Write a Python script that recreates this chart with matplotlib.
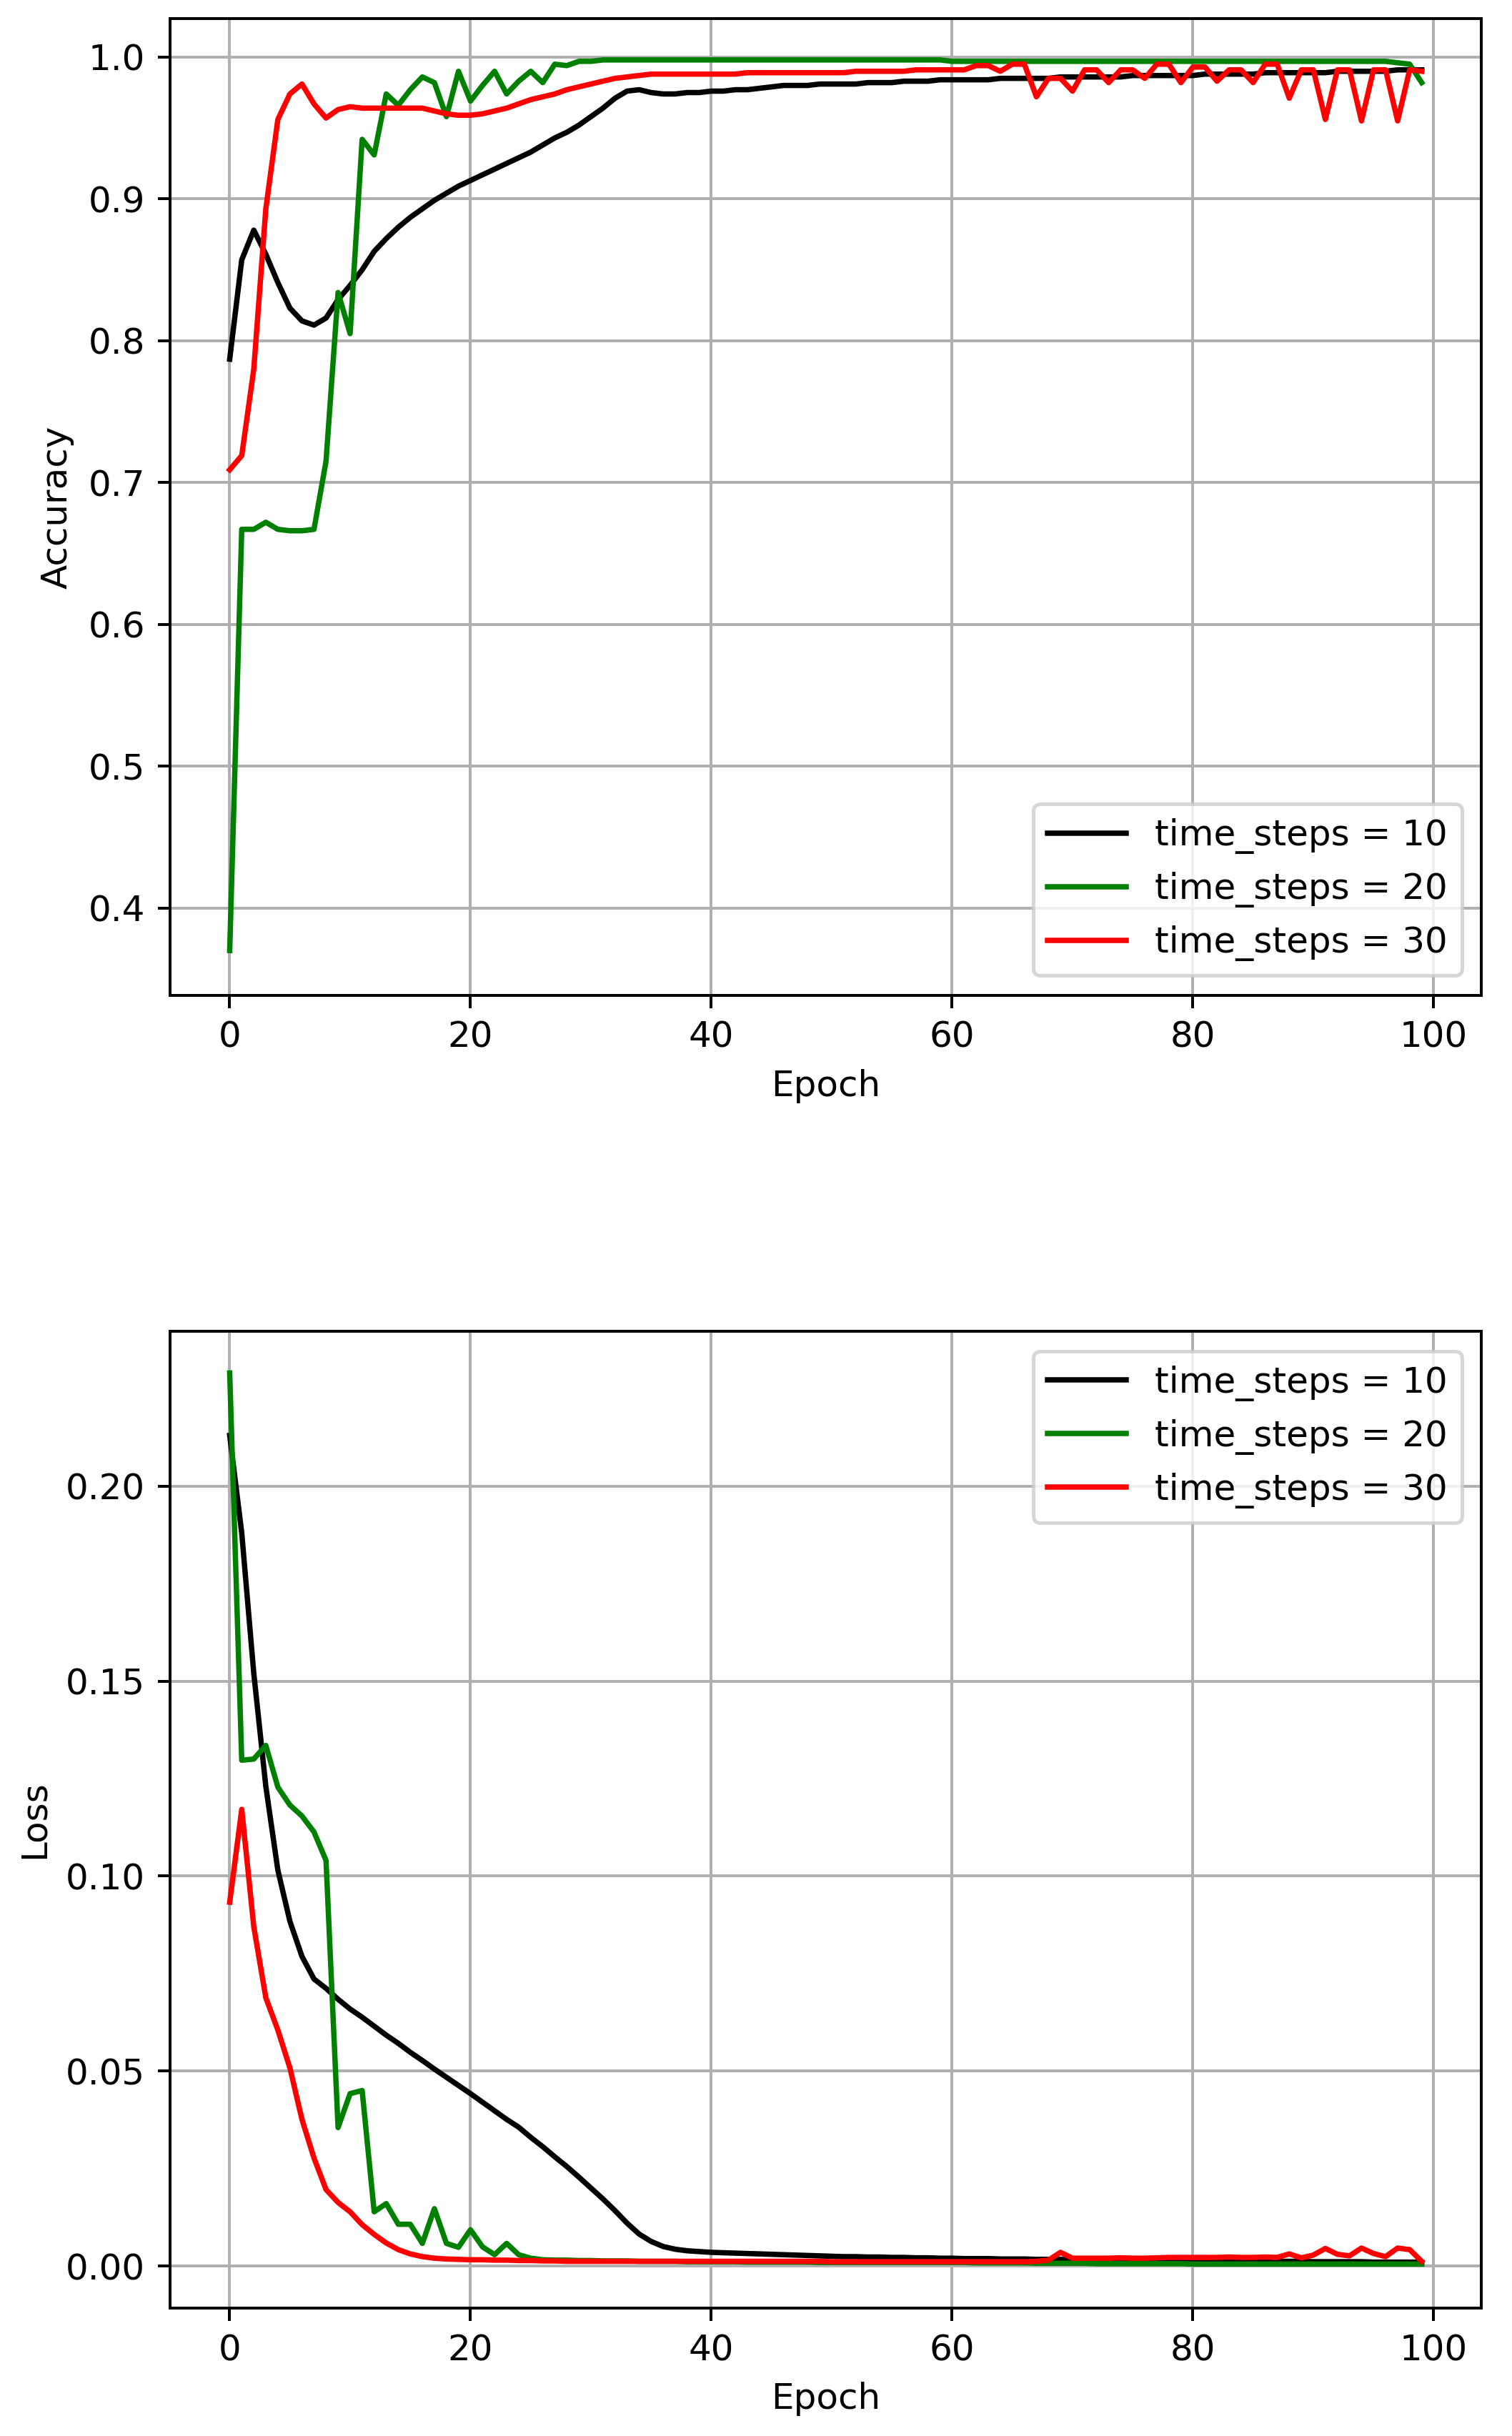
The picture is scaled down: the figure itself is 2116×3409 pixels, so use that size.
import matplotlib
matplotlib.use("Agg")
import matplotlib.pyplot as plt
import numpy as np

epochs = list(range(100))
labels = ["time_steps = 10", "time_steps = 20", "time_steps = 30"]
colors = ["k", "g", "r"]

acc10 = [0.787, 0.857, 0.878, 0.861, 0.841, 0.823, 0.814, 0.811, 0.816, 0.829,
         0.839, 0.850, 0.863, 0.872, 0.880, 0.887, 0.893, 0.899, 0.904, 0.909,
         0.913, 0.917, 0.921, 0.925, 0.929, 0.933, 0.938, 0.943, 0.947, 0.952,
         0.958, 0.964, 0.971, 0.976, 0.977, 0.975, 0.974, 0.974, 0.975, 0.975,
         0.976, 0.976, 0.977, 0.977, 0.978, 0.979, 0.980, 0.980, 0.980, 0.981,
         0.981, 0.981, 0.981, 0.982, 0.982, 0.982, 0.983, 0.983, 0.983, 0.984,
         0.984, 0.984, 0.984, 0.984, 0.985, 0.985, 0.985, 0.985, 0.985, 0.986,
         0.986, 0.986, 0.986, 0.986, 0.986, 0.987, 0.987, 0.987, 0.987, 0.987,
         0.987, 0.988, 0.988, 0.988, 0.988, 0.988, 0.989, 0.989, 0.989, 0.989,
         0.989, 0.989, 0.990, 0.990, 0.990, 0.990, 0.990, 0.991, 0.991, 0.991]

acc20 = [0.370, 0.667, 0.667, 0.672, 0.667, 0.666, 0.666, 0.667, 0.715, 0.834,
         0.805, 0.942, 0.931, 0.974, 0.966, 0.977, 0.986, 0.982, 0.958, 0.990,
         0.969, 0.980, 0.990, 0.974, 0.983, 0.990, 0.982, 0.995, 0.994, 0.997,
         0.997, 0.998, 0.998, 0.998, 0.998, 0.998, 0.998, 0.998, 0.998, 0.998,
         0.998, 0.998, 0.998, 0.998, 0.998, 0.998, 0.998, 0.998, 0.998, 0.998,
         0.998, 0.998, 0.998, 0.998, 0.998, 0.998, 0.998, 0.998, 0.998, 0.998,
         0.997, 0.997, 0.997, 0.997, 0.997, 0.997, 0.997, 0.997, 0.997, 0.997,
         0.997, 0.997, 0.997, 0.997, 0.997, 0.997, 0.997, 0.997, 0.997, 0.997,
         0.997, 0.997, 0.997, 0.997, 0.997, 0.997, 0.997, 0.997, 0.997, 0.997,
         0.997, 0.997, 0.997, 0.997, 0.997, 0.997, 0.997, 0.996, 0.995, 0.982]

acc30 = [0.709, 0.719, 0.780, 0.893, 0.956, 0.974, 0.981, 0.967, 0.957, 0.963,
         0.965, 0.964, 0.964, 0.964, 0.964, 0.964, 0.964, 0.962, 0.960, 0.959,
         0.959, 0.960, 0.962, 0.964, 0.967, 0.970, 0.972, 0.974, 0.977, 0.979,
         0.981, 0.983, 0.985, 0.986, 0.987, 0.988, 0.988, 0.988, 0.988, 0.988,
         0.988, 0.988, 0.988, 0.989, 0.989, 0.989, 0.989, 0.989, 0.989, 0.989,
         0.989, 0.989, 0.990, 0.990, 0.990, 0.990, 0.990, 0.991, 0.991, 0.991,
         0.991, 0.991, 0.994, 0.994, 0.990, 0.995, 0.995, 0.972, 0.985, 0.985,
         0.976, 0.991, 0.991, 0.982, 0.991, 0.991, 0.985, 0.995, 0.995, 0.982,
         0.993, 0.993, 0.983, 0.991, 0.991, 0.982, 0.995, 0.995, 0.971, 0.991,
         0.991, 0.956, 0.991, 0.991, 0.955, 0.991, 0.991, 0.955, 0.991, 0.990]

loss10 = [0.213, 0.188, 0.152, 0.123, 0.1015, 0.0884, 0.0794, 0.0736, 0.0712, 0.0684,
          0.0659, 0.0638, 0.0615, 0.0592, 0.0571, 0.0548, 0.0527, 0.0505, 0.0484, 0.0463,
          0.0442, 0.0420, 0.0398, 0.0376, 0.0356, 0.0330, 0.0306, 0.0280, 0.0255, 0.0228,
          0.0200, 0.0172, 0.0142, 0.0110, 0.0082, 0.0063, 0.0050, 0.0043, 0.0039, 0.0037,
          0.0035, 0.0034, 0.0033, 0.0032, 0.0031, 0.0030, 0.0029, 0.0028, 0.0027, 0.0026,
          0.0025, 0.0024, 0.0024, 0.0023, 0.0023, 0.0022, 0.0022, 0.0021, 0.0021, 0.0020,
          0.0020, 0.0019, 0.0019, 0.0019, 0.0018, 0.0018, 0.0018, 0.0017, 0.0017, 0.0017,
          0.0016, 0.0016, 0.0016, 0.0015, 0.0015, 0.0015, 0.0015, 0.0014, 0.0014, 0.0014,
          0.0014, 0.0013, 0.0013, 0.0013, 0.0013, 0.0012, 0.0012, 0.0012, 0.0012, 0.0012,
          0.0011, 0.0011, 0.0011, 0.0011, 0.0011, 0.0010, 0.0010, 0.0010, 0.0010, 0.0010]

loss20 = [0.229, 0.1297, 0.1300, 0.1335, 0.1228, 0.1182, 0.1154, 0.1113, 0.1040, 0.0355,
          0.0442, 0.0450, 0.0139, 0.0160, 0.0107, 0.0107, 0.0058, 0.0147, 0.0058, 0.0048,
          0.0093, 0.0049, 0.0029, 0.0058, 0.0029, 0.0020, 0.0016, 0.0015, 0.0015, 0.0014,
          0.0014, 0.0013, 0.0013, 0.0013, 0.0012, 0.0012, 0.0012, 0.0012, 0.0011, 0.0011,
          0.0011, 0.0011, 0.0011, 0.0010, 0.0010, 0.0010, 0.0010, 0.0010, 0.0010, 0.0009,
          0.0009, 0.0009, 0.0009, 0.0009, 0.0009, 0.0009, 0.0009, 0.0009, 0.0009, 0.0009,
          0.0009, 0.0009, 0.0008, 0.0008, 0.0008, 0.0008, 0.0008, 0.0007, 0.0007, 0.0007,
          0.0007, 0.0007, 0.0006, 0.0006, 0.0006, 0.0006, 0.0006, 0.0006, 0.0006, 0.0006,
          0.0005, 0.0005, 0.0005, 0.0005, 0.0005, 0.0005, 0.0005, 0.0005, 0.0005, 0.0005,
          0.0005, 0.0005, 0.0005, 0.0005, 0.0005, 0.0005, 0.0005, 0.0005, 0.0005, 0.0005]

loss30 = [0.0933, 0.1171, 0.0870, 0.0688, 0.0605, 0.0508, 0.0376, 0.0277, 0.0196, 0.0163,
          0.0139, 0.0106, 0.0081, 0.0059, 0.0042, 0.0031, 0.0024, 0.0020, 0.0018, 0.0017,
          0.0016, 0.0016, 0.0015, 0.0015, 0.0014, 0.0014, 0.0013, 0.0013, 0.0012, 0.0012,
          0.0012, 0.0012, 0.0012, 0.0012, 0.0012, 0.0012, 0.0012, 0.0012, 0.0012, 0.0012,
          0.0012, 0.0012, 0.0012, 0.0012, 0.0012, 0.0012, 0.0012, 0.0012, 0.0012, 0.0012,
          0.0011, 0.0011, 0.0011, 0.0011, 0.0011, 0.0011, 0.0011, 0.0011, 0.0011, 0.0011,
          0.0011, 0.0011, 0.0011, 0.0011, 0.0011, 0.0011, 0.0011, 0.0012, 0.0015, 0.0035,
          0.0020, 0.0020, 0.0020, 0.0020, 0.0021, 0.0020, 0.0020, 0.0021, 0.0022, 0.0022,
          0.0022, 0.0022, 0.0022, 0.0023, 0.0022, 0.0022, 0.0023, 0.0022, 0.0031, 0.0021,
          0.0028, 0.0045, 0.0030, 0.0026, 0.0046, 0.0032, 0.0024, 0.0046, 0.0042, 0.0012]

DPI = 360
fig = plt.figure(figsize=(2116 / DPI, 3409 / DPI), dpi=DPI)
ax1 = fig.add_axes([0.1125, 0.5914, 0.8672, 0.4010])
ax2 = fig.add_axes([0.1125, 0.0525, 0.8672, 0.4010])

for series, c, lab in zip([acc10, acc20, acc30], colors, labels):
    ax1.plot(epochs, series, color=c, label=lab)
ax1.set_ylim(0.3384, 1.0272)
ax1.set_xlabel("Epoch")
ax1.set_ylabel("Accuracy")
ax1.grid(True)
ax1.legend(loc="lower right", handlelength=2.2, borderaxespad=0.55)

for series, c, lab in zip([loss10, loss20, loss30], colors, labels):
    ax2.plot(epochs, series, color=c, label=lab)
ax2.set_ylim(-0.0108, 0.2397)
ax2.set_xlabel("Epoch")
ax2.set_ylabel("Loss")
ax2.grid(True)
ax2.legend(loc="upper right", handlelength=2.2, borderaxespad=0.55)

fig.savefig("out.png", dpi=DPI)
